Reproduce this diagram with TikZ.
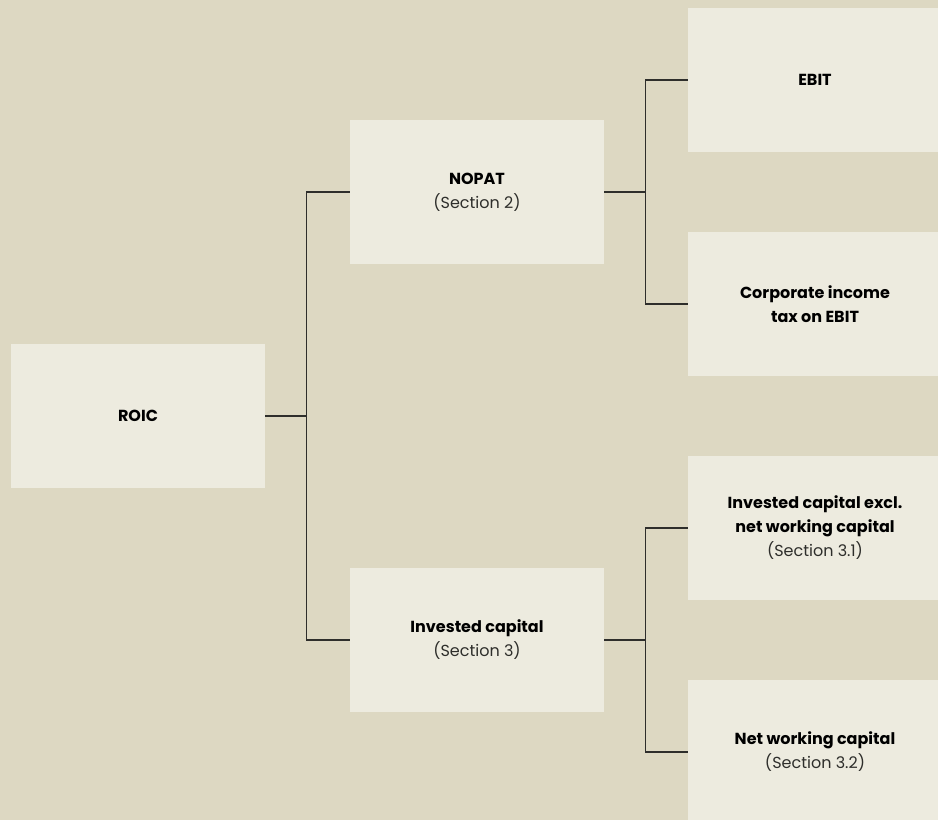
\documentclass[tikz,border=0pt]{standalone}
\usepackage{fontspec}
\setmainfont{Poppins}
\usetikzlibrary{positioning}

\definecolor{sand}{HTML}{DDD8C2}
\definecolor{paper}{HTML}{EDEBDF}
\definecolor{ink}{HTML}{2E2E2B}

\tikzset{
  box/.style={fill=paper, minimum width=190.5pt, minimum height=108pt,
    inner sep=0pt, align=center, text=black,
    font=\fontsize{12}{18}\selectfont\bfseries},
  link/.style={draw=ink, line width=0.9pt},
}
\newcommand{\secref}[1]{{\mdseries\color{ink}(Section #1)}}

\begin{document}
\begin{tikzpicture}[x=0.75pt,y=-0.75pt]
    \useasboundingbox (0,0) rectangle (938,820);
    \clip (0,0) rectangle (938,820);
    \fill[sand] (0,0) rectangle (938,820);
    % --- root and first level
    \node[box] (roic)   at (138,416) {ROIC};
    \node[box] (nopat)  at (477,192) {NOPAT\\\secref{2}};
    \node[box] (invcap) at (477,640) {Invested capital\\\secref{3}};
    % --- second level
    \node[box] (ebit) at (815,80)  {EBIT};
    \node[box] (tax)  at (815,304) {Corporate income\\tax on EBIT};
    \node[box] (icx)  at (815,528) {Invested capital excl.\\net working capital\\\secref{3.1}};
    \node[box] (nwc)  at (815,752) {Net working capital\\\secref{3.2}};
    % --- connectors
    \draw[link] (roic.east) -- ++(42,0);
    \draw[link] (nopat.west) -- ++(-43,0) |- (invcap.west);
    \draw[link] (nopat.east) -- ++(42,0);
    \draw[link] (ebit.west) -- ++(-42,0) |- (tax.west);
    \draw[link] (invcap.east) -- ++(42,0);
    \draw[link] (icx.west) -- ++(-42,0) |- (nwc.west);
\end{tikzpicture}
\end{document}
